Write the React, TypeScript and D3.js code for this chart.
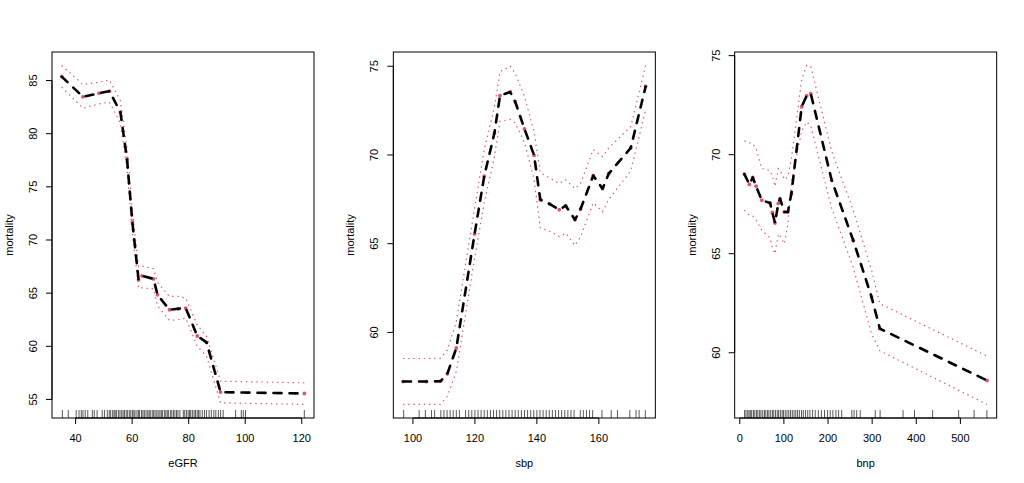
import React from 'react';
import * as d3 from 'd3';

// eGFR panel
const egfrX = [35.07, 42.57, 48.33, 51.96, 55.83, 58.18, 60.06, 62.27, 63.47, 67.56, 68.97, 73.2, 76.3, 78.94, 83.04, 86.3, 91.27, 120.9];
const egfrMean = [85.37, 83.47, 83.81, 84.0, 82.03, 77.6, 71.72, 66.25, 66.63, 66.34, 64.84, 63.44, 63.53, 63.6, 60.97, 60.37, 55.69, 55.56];
const egfrHi = [86.41, 84.63, 84.84, 85.06, 83.1, 78.6, 72.7, 67.5, 67.55, 67.3, 66.0, 64.69, 64.69, 64.53, 62.0, 60.94, 56.72, 56.56];
const egfrLo = [84.38, 82.4, 82.81, 82.97, 81.0, 76.6, 70.7, 65.47, 65.5, 65.4, 63.8, 62.44, 62.5, 62.66, 60.0, 59.06, 54.69, 54.53];
const egfrRug = [35.3, 37.4, 40.2, 41.2, 42.0, 42.6, 43.4, 44.3, 45.9, 46.6, 47.6, 49.4, 50.2, 51.2, 51.9, 52.4, 53.1, 53.6, 54.0, 54.5, 55.2, 55.7, 56.3, 56.8, 57.3, 57.9, 58.4, 59.0, 59.5, 60.1, 60.6, 61.0, 61.7, 62.2, 62.6, 63.3, 63.8, 64.3, 64.9, 65.5, 66.0, 66.4, 67.1, 67.6, 68.1, 68.7, 69.2, 69.8, 70.3, 70.7, 71.4, 71.9, 72.4, 72.8, 73.5, 74.0, 74.6, 75.1, 75.7, 76.2, 76.9, 78.1, 78.6, 79.2, 79.8, 80.3, 80.7, 81.3, 81.9, 82.4, 83.0, 83.5, 84.0, 84.8, 85.6, 86.3, 87.2, 88.0, 88.9, 89.6, 90.5, 91.3, 92.2, 96.6, 98.6, 99.3, 100.1, 120.9];
const egfrXTicks = [40, 60, 80, 100, 120];
const egfrYTicks = [55, 60, 65, 70, 75, 80, 85];

// sbp panel
const sbpX = [96.8, 104.3, 108.9, 111.1, 114.0, 119.9, 123.0, 126.3, 128.1, 131.4, 133.0, 136.0, 139.1, 141.1, 144.1, 147.2, 149.3, 152.3, 154.1, 158.2, 161.2, 163.2, 170.3, 175.1];
const sbpMean = [57.23, 57.23, 57.25, 57.67, 59.12, 65.55, 68.8, 71.24, 73.35, 73.55, 73.0, 71.47, 69.98, 67.48, 67.24, 66.92, 67.14, 66.35, 66.96, 68.84, 68.1, 68.95, 70.4, 73.86];
const sbpHi = [58.53, 58.53, 58.55, 59.0, 60.6, 67.0, 70.3, 72.7, 74.7, 75.0, 74.6, 73.3, 71.3, 69.0, 68.7, 68.4, 68.6, 68.1, 68.4, 70.3, 69.9, 70.4, 71.6, 75.04];
const sbpLo = [55.94, 55.94, 55.95, 56.4, 57.8, 64.2, 67.3, 69.9, 71.9, 72.0, 71.8, 70.7, 68.6, 65.9, 65.7, 65.4, 65.6, 64.9, 65.4, 67.3, 66.8, 67.5, 69.1, 72.56];
const sbpRug = [97, 102, 104, 106, 107, 109, 110, 111, 112, 113, 114, 115, 117, 118, 119, 120, 121, 122, 123, 124, 125, 126, 127, 128, 129, 130, 131, 132, 133, 134, 135, 136, 137, 138, 139, 140, 141, 142, 143, 144, 145, 146, 147, 148, 149, 150, 151, 152, 154, 155, 156, 157, 158, 161, 164, 166, 170, 172, 173, 175];
const sbpXTicks = [100, 120, 140, 160];
const sbpYTicks = [60, 65, 70, 75];

// bnp panel
const bnpX = [10.4, 21.7, 29.4, 36.9, 49.8, 68.6, 73.8, 79.9, 87.3, 91.2, 101.0, 109.0, 117.0, 140.3, 151.6, 160.9, 208.1, 257.0, 298.6, 317.4, 560.2];
const bnpMean = [69.02, 68.5, 68.85, 68.41, 67.7, 67.56, 67.08, 66.55, 67.54, 67.78, 67.11, 67.11, 68.04, 72.42, 72.98, 73.08, 68.72, 65.68, 62.82, 61.22, 58.6];
const bnpHi = [70.7, 70.6, 70.57, 70.3, 69.3, 69.2, 68.9, 68.4, 69.3, 69.2, 68.75, 68.88, 69.8, 73.8, 74.5, 74.45, 70.19, 67.2, 64.19, 62.48, 59.83];
const bnpLo = [67.2, 66.95, 66.9, 66.7, 66.19, 65.8, 65.3, 65.0, 66.0, 65.9, 65.5, 66.5, 68.6, 71.2, 71.66, 71.45, 67.31, 64.32, 60.96, 60.1, 57.39];
const bnpRug = [11, 14, 18, 21, 24, 27, 31, 34, 38, 41, 45, 48, 52, 56, 59, 63, 66, 70, 74, 77, 81, 85, 88, 92, 96, 99, 103, 107, 111, 115, 119, 123, 127, 131, 135, 140, 144, 149, 154, 159, 165, 171, 178, 185, 192, 199, 205, 211, 218, 224, 231, 254, 259, 265, 273, 307, 318, 370, 396, 437, 496, 531, 560];
const bnpXTicks = [0, 100, 200, 300, 400, 500];
const bnpYTicks = [60, 65, 70, 75];

const RED = '#DF536B';
const FONT = '"Liberation Sans", Arial, Helvetica, sans-serif';
const PANEL_W = 1024 / 3;
const M = { left: 52, right: 27.33, top: 52, bottom: 65 };
const H = 483;

interface PanelProps {
  offsetX: number;
  xs: number[];
  mean: number[];
  hi: number[];
  lo: number[];
  rug: number[];
  xTicks: number[];
  yTicks: number[];
  xLabel: string;
}

const pad = (ext: [number, number]) => {
  const d = (ext[1] - ext[0]) * 0.04;
  return [ext[0] - d, ext[1] + d];
};

const Panel: React.FC<PanelProps> = ({ offsetX, xs, mean, hi, lo, rug, xTicks, yTicks, xLabel }) => {
  const left = offsetX + M.left;
  const right = offsetX + PANEL_W - M.right;
  const top = M.top;
  const bottom = H - M.bottom;

  const x = d3.scaleLinear().domain(pad(d3.extent(xs) as [number, number])).range([left, right]);
  const yExt: [number, number] = [d3.min(lo)!, d3.max(hi)!];
  const y = d3.scaleLinear().domain(pad(yExt)).range([bottom, top]);

  const line = (vals: number[]) =>
    d3.line<number>().x((_, i) => x(xs[i])).y(v => y(v))(vals) || '';

  return (
    <g>
      {/* rug */}
      {rug.map((r, i) => (
        <line key={'r' + i} x1={x(r)} x2={x(r)} y1={bottom} y2={bottom - 8} stroke="#000" strokeOpacity={0.65} strokeWidth={1} />
      ))}

      {/* confidence band */}
      <path d={line(hi)} fill="none" stroke={RED} strokeWidth={1.2} strokeDasharray="1.4,3.8" />
      <path d={line(lo)} fill="none" stroke={RED} strokeWidth={1.2} strokeDasharray="1.4,3.8" />

      {/* points */}
      {mean.map((m, i) => (
        <circle key={'p' + i} cx={x(xs[i])} cy={y(m)} r={1.9} fill={RED} />
      ))}

      {/* fitted line */}
      <path d={line(mean)} fill="none" stroke="#000" strokeWidth={2.6} strokeDasharray="8,8" strokeLinecap="round" strokeLinejoin="round" />

      {/* box */}
      <rect x={left} y={top} width={right - left} height={bottom - top} fill="none" stroke="#000" strokeWidth={1} />

      {/* x axis */}
      <line x1={x(xTicks[0])} x2={x(xTicks[xTicks.length - 1])} y1={bottom} y2={bottom} stroke="#000" />
      {xTicks.map(t => (
        <g key={'xt' + t}>
          <line x1={x(t)} x2={x(t)} y1={bottom} y2={bottom + 6} stroke="#000" />
          <text x={x(t)} y={bottom + 24} textAnchor="middle" fontSize={11} fontFamily={FONT} fill="#000">{t}</text>
        </g>
      ))}
      <text x={(left + right) / 2} y={bottom + 49} textAnchor="middle" fontSize={11} fontFamily={FONT} fill="#000">{xLabel}</text>

      {/* y axis */}
      <line x1={left} x2={left} y1={y(yTicks[0])} y2={y(yTicks[yTicks.length - 1])} stroke="#000" />
      {yTicks.map(t => (
        <g key={'yt' + t}>
          <line x1={left} x2={left - 6} y1={y(t)} y2={y(t)} stroke="#000" />
          <text transform={`translate(${left - 15},${y(t)}) rotate(-90)`} textAnchor="middle" fontSize={11} fontFamily={FONT} fill="#000">{t}</text>
        </g>
      ))}
      <text transform={`translate(${offsetX + 13},${(top + bottom) / 2}) rotate(-90)`} textAnchor="middle" fontSize={11} fontFamily={FONT} fill="#000">mortality</text>
    </g>
  );
};

export default function App() {
  return (
    <svg width={1024} height={H} style={{ position: 'absolute', left: 0, top: 0, background: '#fff' }}>
      <rect x={0} y={0} width={1024} height={H} fill="#fff" />
      <Panel offsetX={0} xs={egfrX} mean={egfrMean} hi={egfrHi} lo={egfrLo} rug={egfrRug} xTicks={egfrXTicks} yTicks={egfrYTicks} xLabel="eGFR" />
      <Panel offsetX={PANEL_W} xs={sbpX} mean={sbpMean} hi={sbpHi} lo={sbpLo} rug={sbpRug} xTicks={sbpXTicks} yTicks={sbpYTicks} xLabel="sbp" />
      <Panel offsetX={PANEL_W * 2} xs={bnpX} mean={bnpMean} hi={bnpHi} lo={bnpLo} rug={bnpRug} xTicks={bnpXTicks} yTicks={bnpYTicks} xLabel="bnp" />
    </svg>
  );
}
